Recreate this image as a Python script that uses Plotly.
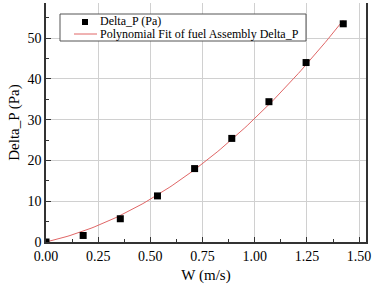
import numpy as np
import plotly.graph_objects as go

# Data
w_values = [0.0, 0.178, 0.356, 0.534, 0.712, 0.890, 1.068, 1.246, 1.424]
dp_values = [0.0, 1.6, 5.7, 11.3, 18.0, 25.4, 34.4, 44.0, 53.5]

x_ticks = [0.0, 0.25, 0.50, 0.75, 1.00, 1.25, 1.50]
x_ticktext = ["0.00", "0.25", "0.50", "0.75", "1.00", "1.25", "1.50"]
y_ticks = [0, 10, 20, 30, 40, 50]

series_names = ["Delta_P (Pa)", "Polynomial Fit of fuel Assembly Delta_P"]

# 2nd-order polynomial fit of the data with intercept fixed at 0
xa = np.array(w_values)
ya = np.array(dp_values)
A = np.column_stack([xa, xa ** 2])
(b1, b2), *_ = np.linalg.lstsq(A, ya, rcond=None)
fit_x = np.linspace(0, max(w_values), 100)
fit_y = b1 * fit_x + b2 * fit_x ** 2

FONT = "Liberation Serif"
LINE_COLOR = "#e06666"

W, H = 383, 285
ML, MR, MT, MB = 46, 17, 3, 43
PW, PH = W - ML - MR, H - MT - MB


def px(x):
    return (x - ML) / PW


def py(y):
    return (H - MB - y) / PH


fig = go.Figure()
fig.add_trace(go.Scatter(
    x=fit_x, y=fit_y, mode="lines", name=series_names[1],
    line=dict(color=LINE_COLOR, width=1),
))
fig.add_trace(go.Scatter(
    x=w_values, y=dp_values, mode="markers", name=series_names[0],
    marker=dict(symbol="square", size=7, color="black"),
))

# Compact legend box (drawn in paper coordinates)
shapes = [
    dict(type="rect", xref="paper", yref="paper", x0=px(60), x1=px(306), y0=py(41), y1=py(14),
         line=dict(color="#555555", width=1), fillcolor="white", layer="above"),
    dict(type="rect", xref="paper", yref="paper", x0=px(82), x1=px(88), y0=py(25), y1=py(19),
         line=dict(width=0), fillcolor="black", layer="above"),
    dict(type="line", xref="paper", yref="paper", x0=px(74), x1=px(97), y0=py(34), y1=py(34),
         line=dict(color=LINE_COLOR, width=1), layer="above"),
]
annotations = [
    dict(xref="paper", yref="paper", x=px(99), y=py(21.5), text=series_names[0], showarrow=False,
         xanchor="left", yanchor="middle", borderpad=0,
         font=dict(family=FONT, size=12, color="black")),
    dict(xref="paper", yref="paper", x=px(99), y=py(34), text=series_names[1], showarrow=False,
         xanchor="left", yanchor="middle", borderpad=0,
         font=dict(family=FONT, size=12, color="black")),
]

fig.update_layout(
    width=W, height=H,
    margin=dict(l=ML, r=MR, t=MT, b=MB, autoexpand=False),
    paper_bgcolor="white", plot_bgcolor="white",
    font=dict(family=FONT, color="black", size=14),
    showlegend=False,
    shapes=shapes, annotations=annotations,
)
fig.update_xaxes(
    range=[0, 1.533], tickvals=x_ticks, ticktext=x_ticktext,
    showline=True, linecolor="#333333", linewidth=1.5, mirror=False,
    ticks="inside", ticklen=5, tickcolor="#333333",
    showgrid=True, gridcolor="#d0d0d0", gridwidth=1, zeroline=False,
    minor=dict(dtick=0.125, tick0=0, ticks="inside", ticklen=3, tickcolor="#333333", showgrid=False),
    title=dict(text="W (m/s)", font=dict(family=FONT, size=15), standoff=7),
    tickfont=dict(family=FONT, size=14), automargin=False,
)
fig.update_yaxes(
    range=[0, 58.6], tickvals=y_ticks,
    showline=True, linecolor="#333333", linewidth=1.5, mirror=True,
    ticks="inside", ticklen=5, tickcolor="#333333",
    showgrid=True, gridcolor="#d0d0d0", gridwidth=1, zeroline=False,
    minor=dict(dtick=5, tick0=0, ticks="inside", ticklen=3, tickcolor="#333333", showgrid=False),
    title=dict(text="Delta_P (Pa)", font=dict(family=FONT, size=15), standoff=4),
    tickfont=dict(family=FONT, size=14), automargin=False,
)

fig.write_html("out.html", config={"displayModeBar": False},
               post_script="document.body.style.margin='0';")
